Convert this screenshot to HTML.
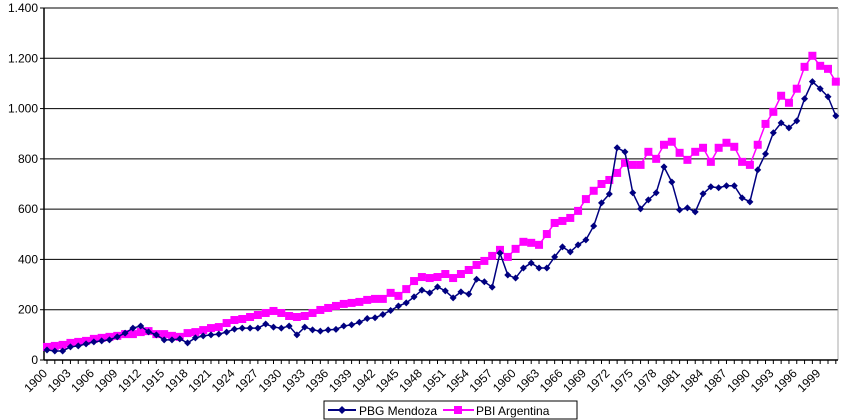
<!DOCTYPE html>
<html><head><meta charset="utf-8"><style>
body{margin:0;background:#fff;}
svg{display:block;font-family:"Liberation Sans",Arial,sans-serif;}
</style></head><body>
<svg id="chart" width="843" height="420" viewBox="0 0 843 420" xmlns="http://www.w3.org/2000/svg">
<g id="grid"></g>
<g id="yaxis"></g>
<g id="xaxis"></g>
<g id="series"></g>
<g>
<rect x="324" y="401" width="253" height="18" fill="#fff" stroke="#000" stroke-width="1"/>
<line x1="328" y1="410" x2="356" y2="410" stroke="#000080" stroke-width="2"/>
<path d="M342 406 L346 410 L342 414 L338 410 Z" fill="#000080"/>
<text x="359" y="415" font-size="12">PBG Mendoza</text>
<line x1="443" y1="410" x2="474" y2="410" stroke="#ff00ff" stroke-width="2"/>
<rect x="454" y="406" width="8" height="8" fill="#ff00ff"/>
<text x="476" y="415" font-size="12">PBI Argentina</text>
</g>
</svg>
<script>
const startYear = 1900;
const mendoza = [40,36,36,52,56,64,72,76,80,92,107,127,135,112,100,80,80,84,68,88,
96,100,103,111,123,127,127,127,143,131,127,135,100,131,120,115,120,122,135,140,
150,165,168,181,197,215,227,251,278,267,291,275,247,271,262,321,311,290,425,338,
326,366,386,366,366,410,450,430,458,478,533,625,660,844,828,665,601,637,665,768,
708,597,605,589,661,689,685,693,693,645,629,756,820,904,943,923,951,1039,1107,1079,
1047,971];
const argentina = [52,56,60,68,72,76,84,88,92,96,103,103,111,115,103,103,96,92,107,111,
119,127,131,147,159,163,171,179,187,195,187,175,171,175,187,199,207,215,223,227,
231,239,243,243,267,255,282,314,330,326,330,342,326,342,358,378,394,414,438,410,
442,470,466,458,501,545,553,565,593,640,673,700,716,744,784,776,776,828,800,856,
868,824,796,828,844,788,844,864,848,788,776,856,939,987,1051,1023,1079,1166,1210,1170,
1158,1107];
const yTicks = [0,200,400,600,800,1000,1200,1400];
const yTickLabels = ["0","200","400","600","800","1.000","1.200","1.400"];

const L=44,R=838,T=8,B=360,N=mendoza.length;
const xS=i=>47+i*7.81;
const yS=v=>B-(v/1400)*(B-T);
const NS="http://www.w3.org/2000/svg";
function mk(tag,attrs,parent){const e=document.createElementNS(NS,tag);for(const k in attrs)e.setAttribute(k,attrs[k]);parent.appendChild(e);return e;}
const grid=document.getElementById('grid'),ya=document.getElementById('yaxis'),xa=document.getElementById('xaxis'),ser=document.getElementById('series');
yTicks.forEach((v,i)=>{
  if(v>0){const g=mk('line',{x1:L,x2:R,y1:yS(v),y2:yS(v),stroke:'#000','stroke-width':1},grid);
  
  }
  const t=mk('text',{x:L-6,y:yS(v)+4,'text-anchor':'end','font-size':12},ya);
  
  
  t.textContent=yTickLabels[i];
  mk('line',{x1:L-4,x2:L,y1:yS(v),y2:yS(v),stroke:'#000'},ya);
});
mk('line',{x1:L,x2:L,y1:T,y2:B,stroke:'#000','stroke-width':1.5},ya);
mk('line',{x1:R,x2:R,y1:T,y2:B,stroke:'#aaa','stroke-width':1},ya);
mk('line',{x1:L,x2:R,y1:B,y2:B,stroke:'#000','stroke-width':1.5},xa);
for(let i=0;i<N;i++){
  const x=xS(i);
  mk('line',{x1:x,x2:x,y1:B,y2:B+4,stroke:'#000'},xa);
  if(i%3===0){
    const ax=x+1, ay=B+14;
    const t=mk('text',{x:ax,y:ay,'text-anchor':'end','font-size':12,transform:`rotate(-45 ${ax} ${ay})`},xa);
    
    
    t.textContent=String(startYear+i);
  }
}
function line(data,color,name){
  const p=mk('polyline',{points:data.map((v,i)=>xS(i)+','+yS(v)).join(' '),fill:'none',stroke:color,'stroke-width':1.5},ser);
  
  
}
line(argentina,'#ff00ff','argentina');
argentina.forEach((v,i)=>{
  const r=mk('rect',{x:xS(i)-4,y:yS(v)-4,width:8,height:8,fill:'#ff00ff'},ser);
  
  
});
line(mendoza,'#000080','mendoza');
mendoza.forEach((v,i)=>{
  const x=xS(i),y=yS(v);
  const d=mk('path',{d:`M${x} ${y-3.5}L${x+3.5} ${y}L${x} ${y+3.5}L${x-3.5} ${y}Z`,fill:'#000080'},ser);
  
  
});
</script>
</body></html>
